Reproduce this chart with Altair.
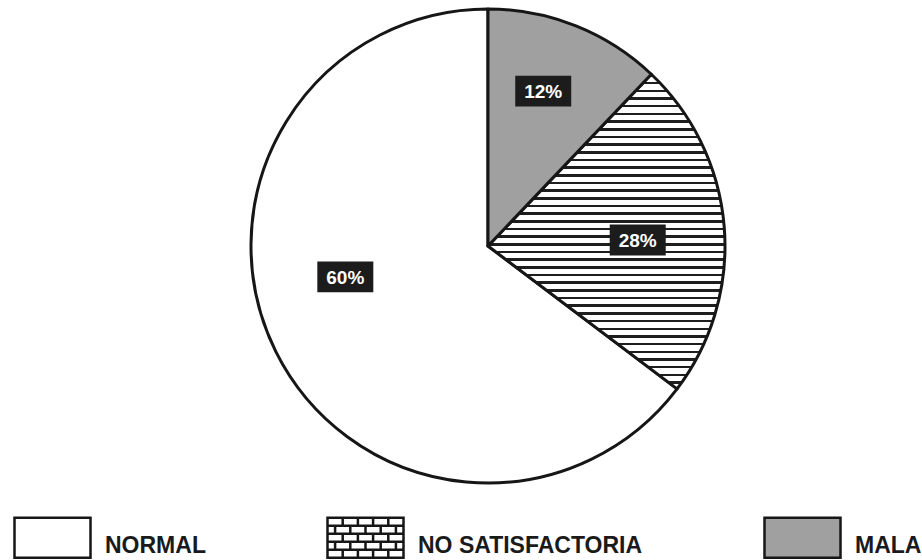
import altair as alt
import pandas as pd

# ---- data ----
categorias = ["NORMAL", "NO SATISFACTORIA", "MALA"]
# angular share of each slice as drawn in the picture (%)
porcion_dibujada = [64.7, 23.2, 12.1]
# percentages printed on the labels
etiqueta = [60, 28, 12]

df = pd.DataFrame({"cat": categorias, "porcion": porcion_dibujada, "etiqueta": etiqueta})

# ---- styles ----
FONT = "Liberation Sans"

# brick texture for the pie slice: horizontal mortar lines as a striped gradient
n_rows = 41
stops = []
for k in range(n_rows):
    a = k / n_rows
    b = (k + 0.33) / n_rows
    stops += [{"offset": a, "color": "#1e1e1e"}, {"offset": b, "color": "#1e1e1e"},
              {"offset": b, "color": "#ffffff"}, {"offset": (k + 1) / n_rows, "color": "#ffffff"}]
brick_grad = {"gradient": "linear", "x1": 0, "y1": 0, "x2": 0, "y2": 1, "stops": stops}

# legend symbol paths (box shifted up so the label sits a little lower)
top, bot = -0.736, 0.316
rect_path = f"M-1,{top}H1V{bot}H-1Z"
rows = 5
h = (bot - top) / rows
brick_parts = [rect_path]
for r in range(1, rows):
    y = top + r * h
    brick_parts.append(f"M-1,{y:.3f}H1")
for r in range(rows):
    y0 = top + r * h
    y1 = y0 + h
    xs = [-0.6, -0.2, 0.2, 0.6] if r % 2 == 0 else [-0.8, -0.4, 0.0, 0.4, 0.8]
    for x in xs:
        brick_parts.append(f"M{x},{y0:.3f}V{y1:.3f}")
brick_path = "".join(brick_parts)

fill_scale = alt.Scale(domain=categorias, range=["#ffffff", "#ffffff", "#a0a0a0"])
shape_scale = alt.Scale(domain=categorias, range=[rect_path, brick_path, rect_path])

legend = alt.Legend(
    title=None, orient="none", legendX=-238, legendY=497, direction="horizontal",
    labelFont=FONT, labelFontSize=23, labelFontWeight="bold", labelColor="#1a1a1a",
    labelOffset=13, labelLimit=500, columnPadding=116, symbolSize=5776,
    symbolStrokeColor="#161616", symbolStrokeWidth=2.5, padding=0,
)

base = alt.Chart(df).transform_window(idx="row_number()")

pie = base.mark_arc(stroke="#161616", strokeWidth=3, strokeJoin="round").encode(
    theta=alt.Theta("porcion:Q", stack=True),
    order=alt.Order("idx:Q", sort="descending"),
    fill=alt.Fill("cat:N", scale=fill_scale, legend=legend,
                  condition={"test": "datum.cat === 'NO SATISFACTORIA'", "value": brick_grad}),
)

legend_layer = base.transform_filter("false").mark_point(
    filled=True, stroke="#161616", strokeWidth=2.5, opacity=1
).encode(
    fill=alt.Fill("cat:N", scale=fill_scale, legend=legend),
    shape=alt.Shape("cat:N", scale=shape_scale, legend=legend),
)

lab = base.transform_window(
    cum="sum(etiqueta)", sort=[alt.SortField("idx", order="descending")], frame=[None, 0]
).transform_joinaggregate(total="sum(etiqueta)").transform_calculate(
    ang="(datum.cum - datum.etiqueta / 2) / datum.total * 2 * PI",
    txt="datum.etiqueta + '%'",
).transform_calculate(
    lx="0.633 * sin(datum.ang)",
    ly="0.633 * cos(datum.ang) + 0.065",
)

xenc = alt.X("lx:Q", scale=alt.Scale(domain=[-1, 1]), axis=None)
yenc = alt.Y("ly:Q", scale=alt.Scale(domain=[-1, 1]), axis=None)

boxes = lab.mark_point(
    shape="M-1,-0.55H1V0.55H-1Z", size=3136, filled=True, fill="#1c1c1c", opacity=1, strokeWidth=0
).encode(x=xenc, y=yenc)

texts = lab.mark_text(
    font=FONT, fontSize=19, fontWeight="bold", color="#ffffff", baseline="middle",
    align="center", dy=1
).encode(x=xenc, y=yenc, text="txt:N")

chart = alt.layer(pie, legend_layer, boxes, texts).properties(
    width=474, height=474,
    autosize=alt.AutoSizeParams(type="none"),
    padding={"left": 251, "top": 9, "right": 197, "bottom": 77},
    background="#ffffff",
).configure_view(stroke=None)

chart.save("out.html", embed_options={"renderer": "svg", "actions": False})
